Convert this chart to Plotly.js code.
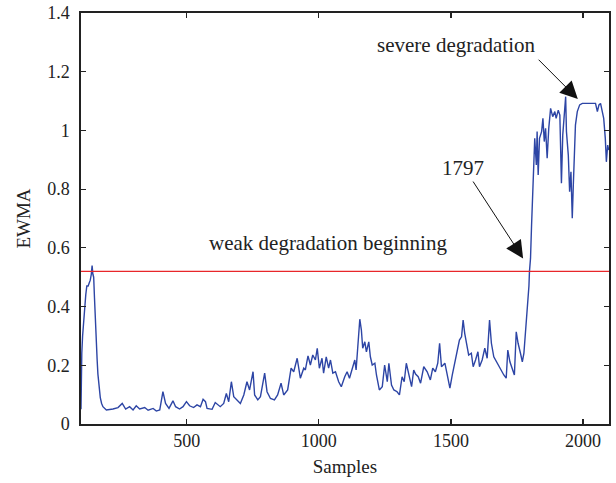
<!DOCTYPE html>
<html>
<head>
<meta charset="utf-8">
<script src="https://cdn.plot.ly/plotly-3.0.1.min.js"></script>
<style>html,body{margin:0;padding:0;background:#fff;}#chart{width:616px;height:483px;}</style>
</head>
<body>
<div id="chart"></div>
<script>
// Samples (x) and EWMA values (y)
const samples = [100,101,103,106,110,114,118,122,127,131,135,139,142,145,148,151,154,158,161,164,167,170,173,178,
183,196,221,240,256,269,284,297,309,322,341,354,373,385,398,410,420,433,448,458,473,486,499,511,526,539,552,
562,571,577,596,608,617,627,640,650,659,669,678,691,703,716,728,738,751,757,769,779,795,804,817,832,844,857,867,882,895,905,918,930,943,949,
959,968,977,987,994,1002,1012,1018,1028,1037,1044,1053,1063,1075,1085,1098,1107,1116,1126,1136,1141,1149,1155,1161,1166,1174,1180,1189,1195,1202,1212,1218,1229,1240,1249,1259,1265,1275,1284,1296,1305,1315,1323,1331,1340,1351,1359,1366,
1376,1385,1397,1410,1422,1431,1441,1450,1457,1464,1477,1486,1496,1505,1514,1524,1532,1540,1546,1552,1559,1567,1577,1584,1593,1602,1608,1618,1628,1637,1646,1653,1662,1672,1681,1691,1700,1709,1715,1723,1732,1740,1747,1754,1763,1770,1776,1782,1789,1792,1795,1797,
1801,1805,1810,1814,1817,1823,1826,1830,1835,1843,1848,1853,1858,1864,1870,1877,1885,1893,1898,1906,1912,1918,1923,1934,1937,1944,1949,1954,1959,1963,1967,1971,1978,1987,1997,2022,2047,2054,2060,2066,2072,2078,2084,2088,2093,2097];
const ewma = [0.05,0.15,0.24,0.30,0.36,0.40,0.44,0.47,0.47,0.48,0.49,0.51,0.54,0.51,0.50,0.43,0.35,0.27,0.22,0.17,0.14,0.11,0.09,0.07,
0.059,0.048,0.051,0.056,0.070,0.051,0.059,0.048,0.062,0.051,0.056,0.047,0.053,0.044,0.048,0.110,0.070,0.053,0.079,0.059,0.051,0.059,0.076,0.062,0.056,0.065,0.059,
0.084,0.076,0.053,0.050,0.073,0.065,0.059,0.070,0.104,0.076,0.144,0.093,0.082,0.070,0.099,0.144,0.116,0.178,0.099,0.082,0.093,0.173,0.110,0.087,0.082,0.099,0.139,0.099,0.116,0.190,0.178,0.224,0.156,0.190,0.184,
0.232,0.201,0.235,0.218,0.258,0.190,0.224,0.173,0.229,0.190,0.218,0.173,0.178,0.144,0.127,0.161,0.178,0.156,0.190,0.218,0.184,0.275,0.357,0.320,0.258,0.280,0.246,0.280,0.229,0.201,0.207,0.167,0.116,0.127,0.201,0.144,0.207,0.133,0.116,0.110,0.099,0.161,0.144,0.207,0.167,0.127,0.184,0.170,
0.161,0.139,0.195,0.178,0.150,0.190,0.178,0.207,0.275,0.195,0.207,0.167,0.122,0.167,0.207,0.252,0.286,0.297,0.354,0.309,0.269,0.235,0.241,0.195,0.218,0.246,0.195,0.218,0.258,0.224,0.354,0.275,0.229,0.212,0.201,0.184,0.167,0.156,0.252,0.212,0.184,0.167,0.314,0.275,0.241,0.212,0.241,0.309,0.377,0.420,0.470,0.519,
0.564,0.678,0.814,0.927,0.973,0.882,0.996,0.848,0.973,0.996,1.041,0.962,1.007,0.905,1.007,1.075,1.047,1.064,1.041,1.069,1.052,0.820,0.984,1.115,0.996,0.916,0.791,0.859,0.701,0.814,0.927,1.018,1.064,1.087,1.092,1.092,1.092,1.064,1.087,1.092,1.069,1.041,0.973,0.893,0.950,0.933];
const threshold = [0.52];
const xTicks = [500,1000,1500,2000];
const yTicks = [0,0.2,0.4,0.6,0.8,1,1.2,1.4];
const yTickText = ['0','0.2','0.4','0.6','0.8','1','1.2','1.4'];

const FONT = 'Liberation Serif, Times New Roman, serif';
const INK = '#222';
const trace = {x: samples, y: ewma, type: 'scatter', mode: 'lines',
  line: {color: '#2d45a5', width: 1.4}, hoverinfo: 'skip'};

const axisCommon = {showgrid: false, zeroline: false, showline: true, linecolor: INK, linewidth: 1.6,
  mirror: 'ticks', ticks: 'inside', ticklen: 5, tickcolor: INK, tickwidth: 1.2,
  tickfont: {family: FONT, size: 18, color: INK}};

const annFont = {family: FONT, size: 21, color: INK};
const layout = {
  width: 616, height: 483,
  margin: {l: 81, r: 7, t: 13, b: 59},
  paper_bgcolor: '#fff', plot_bgcolor: '#fff',
  showlegend: false,
  font: {family: FONT, size: 18, color: INK},
  xaxis: Object.assign({}, axisCommon, {range: [100, 2098], tickvals: xTicks,
    title: {text: 'Samples', font: {family: FONT, size: 19, color: INK}, standoff: 9}}),
  yaxis: Object.assign({}, axisCommon, {range: [0, 1.4], tickvals: yTicks, ticktext: yTickText,
    ticklabelstandoff: 6,
    title: {text: 'EWMA', font: {family: FONT, size: 19, color: INK}, standoff: 11}}),
  shapes: [{type: 'line', xref: 'paper', x0: 0, x1: 1, yref: 'y', y0: threshold[0], y1: threshold[0],
    line: {color: '#e8262a', width: 1.2}}],
  annotations: [
    {x: 1036, y: 0.616, xref: 'x', yref: 'y', text: 'weak degradation beginning', showarrow: false, font: annFont},
    {x: 1544, y: 0.872, xref: 'x', yref: 'y', text: '1797', showarrow: false, font: annFont},
    {x: 1521, y: 1.291, xref: 'x', yref: 'y', text: 'severe degradation', showarrow: false, font: annFont},
    {x: 1773, y: 0.564, xref: 'x', yref: 'y', ax: 1580, ay: 0.831, axref: 'x', ayref: 'y', text: '',
     showarrow: true, arrowhead: 2, arrowsize: 3.5, arrowwidth: 1, arrowcolor: '#111'},
    {x: 1980, y: 1.107, xref: 'x', yref: 'y', ax: 1826, ay: 1.246, axref: 'x', ayref: 'y', text: '',
     showarrow: true, arrowhead: 2, arrowsize: 3.5, arrowwidth: 1, arrowcolor: '#111'}
  ]
};
Plotly.newPlot('chart', [trace], layout, {displayModeBar: false, staticPlot: true});
</script>
</body>
</html>
